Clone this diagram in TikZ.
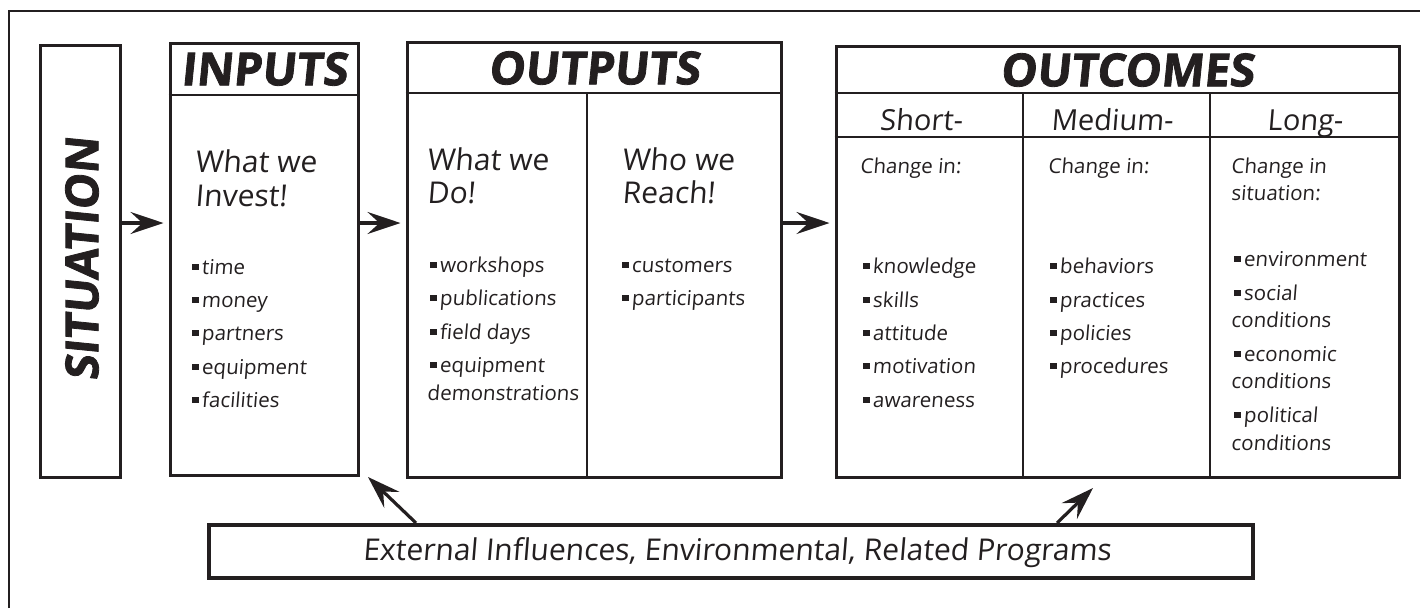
\documentclass[tikz,border=0pt]{standalone}
\usepackage{fontspec}
\setmainfont{Open Sans}
\newfontfamily\erasbody{Open Sans}[FakeSlant=0.08]
\newfontfamily\erashead{Open Sans}[FakeSlant=0.1, FakeBold=1.8]
\usetikzlibrary{arrows.meta}
\definecolor{ink}{RGB}{35,31,32}
\newcommand\bul{\raisebox{4pt}{\rule{6.5pt}{6.5pt}}\hspace{3pt}}
\newcommand\bodyfont{\erasbody\fontsize{20.5}{26}\selectfont}
\newcommand\midfont{\erasbody\fontsize{30}{34}\selectfont}
\newcommand\colfont{\erasbody\fontsize{29}{34}\selectfont}
\newcommand\headfont{\erashead\bfseries\fontsize{45.5}{50}\selectfont}
\tikzset{
  boxframe/.style={draw=ink, line width=3pt, rectangle, inner sep=0pt},
  divline/.style={draw=ink, line width=2.6pt},
  txt/.style={anchor=base west, inner sep=0pt, text=ink, font=\bodyfont},
  mid/.style={anchor=base west, inner sep=0pt, text=ink, font=\midfont},
  midc/.style={anchor=base, inner sep=0pt, text=ink, font=\colfont},
  head/.style={inner sep=0pt, text=ink, font=\headfont},
  arr/.style={draw=ink, line width=3.2pt, -{Stealth[length=33pt,width=22pt,inset=12pt]}},
}
\begin{document}
\begin{tikzpicture}[x=1pt,y=-1pt]
\useasboundingbox (0,0) rectangle (1420,608);
% outer frame
\draw[ink, line width=2pt] (9,608) -- (9,11) -- (1420,11);

% main boxes
\node[boxframe, minimum width=80pt, minimum height=432pt] (sit) at (80,261) {};
\node[head, rotate=90] (sittxt) at (82,259) {SITUATION};

\node[boxframe, minimum width=188pt, minimum height=432pt] (inp) at (264,259) {};
\node[boxframe, minimum width=374pt, minimum height=435pt] (outp) at (594,259.5) {};
\node[boxframe, minimum width=563pt, minimum height=431pt] (outc) at (1117.5,261.5) {};
\node[boxframe, line width=4pt, minimum width=1044pt, minimum height=53pt] (ext) at (731,551.5) {};

% header rows
\coordinate (hA) at (0,95);
\coordinate (hB) at (0,93);
\coordinate (hC) at (0,137);
\draw[divline] (inp.west |- hA) -- (inp.east |- hA);
\draw[divline] (outp.west |- hB) -- (outp.east |- hB);
\draw[divline] (outc.west |- hB) -- (outc.east |- hB);
\draw[divline] (outc.west |- hC) -- (outc.east |- hC);
% column dividers
\coordinate (dO) at (587,0);
\coordinate (d1) at (1023,0);
\coordinate (d2) at (1210,0);
\draw[divline] (dO |- hB) -- (dO |- outp.south);
\draw[divline] (d1 |- hB) -- (d1 |- outc.south);
\draw[divline] (d2 |- hB) -- (d2 |- outc.south);

% titles
\node[head] (tinp) at (264,69) {INPUTS};
\node[head] (toutp) at (594,68) {OUTPUTS};
\node[head] (toutc) at (1127,70) {OUTCOMES};

% INPUTS text
\node[mid] (wi1) at (195,172) {What we};
\node[mid] (wi2) at (195,206) {Invest!};
\node[txt] (i1) at (192,274) {\bul time};
\node[txt] (i2) at (192,307) {\bul money};
\node[txt] (i3) at (192,340) {\bul partners};
\node[txt] (i4) at (192,374) {\bul equipment};
\node[txt] (i5) at (192,407) {\bul facilities};

% OUTPUTS text
\node[mid] (wd1) at (427,170) {What we};
\node[mid] (wd2) at (427,203) {Do!};
\node[mid] (wr1) at (622,170) {Who we};
\node[mid] (wr2) at (622,203) {Reach!};
\node[txt] (o1) at (430,272) {\bul workshops};
\node[txt] (o2) at (430,305) {\bul publications};
\node[txt] (o3) at (430,339) {\bul field days};
\node[txt] (o4) at (430,372) {\bul equipment};
\node[txt] (o5) at (427,400) {demonstrations};
\node[txt] (r1) at (622,272) {\bul customers};
\node[txt] (r2) at (622,305) {\bul participants};

% OUTCOMES text
\node[midc] (sh) at (921,130) {Short-};
\node[midc] (me) at (1112,130) {Medium-};
\node[midc] (lo) at (1305,130) {Long-};
\node[txt] (c1) at (860,173) {Change in:};
\node[txt] (c2) at (1048,173) {Change in:};
\node[txt] (c3a) at (1231,173) {Change in};
\node[txt] (c3b) at (1231,200) {situation:};
\node[txt] (s1) at (863,273) {\bul knowledge};
\node[txt] (s2) at (863,307) {\bul skills};
\node[txt] (s3) at (863,340) {\bul attitude};
\node[txt] (s4) at (863,373) {\bul motivation};
\node[txt] (s5) at (863,407) {\bul awareness};
\node[txt] (m1) at (1050,273) {\bul behaviors};
\node[txt] (m2) at (1050,307) {\bul practices};
\node[txt] (m3) at (1050,340) {\bul policies};
\node[txt] (m4) at (1050,373) {\bul procedures};
\node[txt] (l1) at (1234,266) {\bul environment};
\node[txt] (l2) at (1234,300) {\bul social};
\node[txt] (l2b) at (1231,327) {conditions};
\node[txt] (l3) at (1234,361) {\bul economic};
\node[txt] (l3b) at (1231,388) {conditions};
\node[txt] (l4) at (1234,422) {\bul political};
\node[txt] (l4b) at (1231,450) {conditions};

% external influences
\node[inner sep=0pt, text=ink, font=\erasbody\fontsize{30}{34}\selectfont] (exttxt) at (737,553) {External Influences, Environmental, Related Programs};

% arrows
\coordinate (row) at (0,223);
\draw[arr, shorten >=5pt] (sit.east |- row) -- (inp.west |- row);
\draw[arr, shorten >=5pt] (inp.east |- row) -- (outp.west |- row);
\draw[arr, shorten >=5pt] (outp.east |- row) -- (outc.west |- row);
\coordinate (ta) at (416,0);
\coordinate (tipA) at (368,477);
\coordinate (tb) at (1057,0);
\coordinate (tipB) at (1093,488);
\draw[arr] (ta |- ext.north) -- (tipA);
\draw[arr] (tb |- ext.north) -- (tipB);
\end{tikzpicture}
\end{document}
